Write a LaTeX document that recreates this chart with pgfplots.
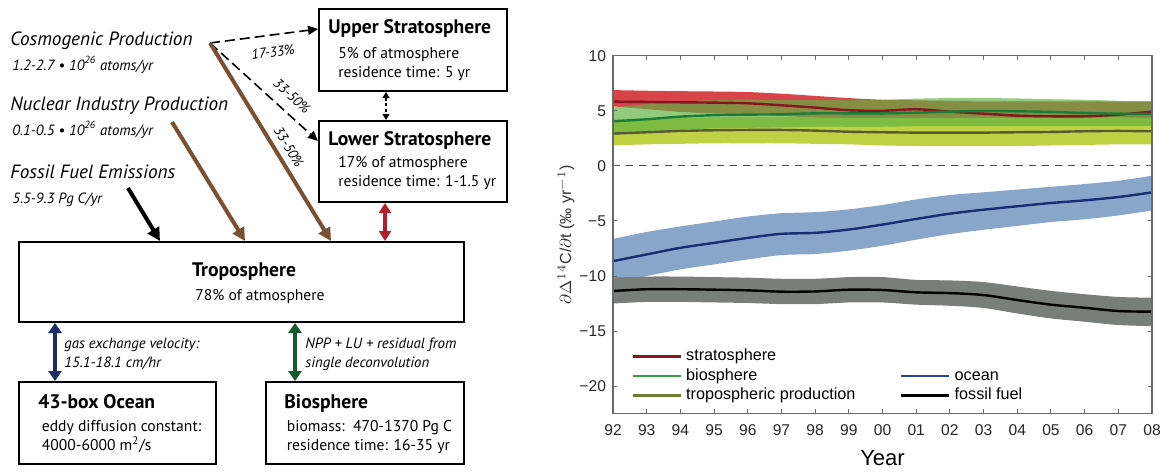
\documentclass[border=0pt]{standalone}
\usepackage{fontspec}
\setmainfont{Liberation Sans}
\newfontfamily\df{PT Sans}
\usepackage{pgfplots}
\pgfplotsset{compat=1.18}
\usepackage{pgfplotstable}
\usepgfplotslibrary{fillbetween}
\usetikzlibrary{arrows.meta}

\definecolor{strline}{RGB}{135,20,30}
\definecolor{strband}{RGB}{216,68,74}
\definecolor{bioline}{RGB}{25,125,55}
\definecolor{bioleg}{RGB}{50,160,75}
\definecolor{bioband}{RGB}{95,178,65}
\definecolor{tropline}{RGB}{88,90,55}
\definecolor{tropleg}{RGB}{110,125,50}
\definecolor{tropband}{RGB}{192,210,68}
\definecolor{ocline}{RGB}{22,45,115}
\definecolor{ocleg}{RGB}{40,70,150}
\definecolor{ocband}{RGB}{136,166,201}
\definecolor{ffband}{RGB}{122,126,123}
\definecolor{brownarr}{RGB}{122,80,50}
\definecolor{redarr}{RGB}{178,30,45}
\definecolor{bluearr}{RGB}{30,42,110}
\definecolor{greenarr}{RGB}{20,90,45}
\definecolor{axgray}{RGB}{105,105,105}

\pgfplotstableread{
x line lo hi
0 5.83 5.40 6.88
1 5.80 5.15 6.82
2 5.77 4.90 6.78
3 5.74 4.75 6.75
4 5.68 4.70 6.70
5 5.50 4.55 6.55
6 5.29 4.35 6.35
7 5.05 4.15 6.15
8 5.00 4.05 6.00
9 5.14 4.20 5.95
10 4.92 4.00 5.90
11 4.74 3.80 5.85
12 4.56 3.60 5.85
13 4.50 3.50 5.85
14 4.50 3.50 5.85
15 4.65 3.65 5.85
16 4.92 3.95 5.85
}\strat

\pgfplotstableread{
x line lo hi
0 4.05 2.85 5.30
1 4.23 3.00 5.60
2 4.47 3.25 5.85
3 4.60 3.40 5.95
4 4.65 3.45 6.00
5 4.68 3.50 6.00
6 4.77 3.55 6.00
7 4.77 3.55 6.00
8 4.77 3.55 6.00
9 4.83 3.60 6.10
10 4.92 3.60 6.15
11 4.98 3.60 6.15
12 4.95 3.60 6.12
13 4.90 3.60 6.05
14 4.80 3.60 6.00
15 4.74 3.60 5.90
16 4.71 3.60 5.80
}\bio

\pgfplotstableread{
x line lo hi
0 2.93 1.85 4.18
1 3.05 1.95 4.25
2 3.17 2.00 4.35
3 3.23 2.05 4.40
4 3.26 2.05 4.45
5 3.26 2.05 4.45
6 3.20 2.00 4.40
7 3.10 1.95 4.35
8 3.05 1.85 4.35
9 3.02 1.80 4.35
10 3.02 1.80 4.35
11 3.02 1.80 4.35
12 3.05 1.80 4.35
13 3.08 1.85 4.35
14 3.14 1.90 4.35
15 3.17 1.95 4.40
16 3.14 1.95 4.35
}\trop

\pgfplotstableread{
x line lo hi
0 -8.65 -10.65 -6.63
1 -8.04 -10.00 -6.00
2 -7.44 -9.40 -5.50
3 -6.99 -8.95 -5.05
4 -6.54 -8.50 -4.60
5 -6.17 -8.10 -4.30
6 -6.08 -8.00 -4.20
7 -5.78 -7.70 -3.95
8 -5.33 -7.25 -3.55
9 -4.82 -6.70 -3.05
10 -4.34 -6.20 -2.65
11 -3.98 -5.80 -2.40
12 -3.67 -5.45 -2.15
13 -3.37 -5.10 -1.90
14 -3.13 -4.85 -1.65
15 -2.83 -4.50 -1.35
16 -2.41 -4.05 -0.90
}\ocean

\pgfplotstableread{
x line lo hi
0 -11.36 -12.50 -10.15
1 -11.20 -12.35 -10.05
2 -11.20 -12.35 -10.05
3 -11.24 -12.40 -10.10
4 -11.30 -12.45 -10.15
5 -11.42 -12.55 -10.25
6 -11.40 -12.55 -10.25
7 -11.24 -12.40 -10.10
8 -11.27 -12.40 -10.10
9 -11.48 -12.60 -10.35
10 -11.55 -12.70 -10.40
11 -11.73 -12.90 -10.55
12 -12.18 -13.40 -10.95
13 -12.60 -13.85 -11.35
14 -12.88 -14.15 -11.65
15 -13.18 -14.45 -11.90
16 -13.24 -14.55 -11.97
}\fossil

\begin{document}
\begin{tikzpicture}
% ---------------- diagram ----------------
\begin{scope}[x=0.5pt,y=-0.5pt,every node/.style={inner sep=0pt}]
\draw[line width=1pt] (319,9) rectangle (507,91);
\draw[line width=1pt] (319,121) rectangle (507,202);
\draw[line width=1pt] (19,242) rectangle (464,322);
\draw[line width=1pt] (19,382) rectangle (216,464);
\draw[line width=1pt] (266,382) rectangle (464,464);

\def\tf{\df\bfseries\fontsize{9.8}{11}\selectfont}
\def\bft{\df\fontsize{7.8}{9}\selectfont}
\def\itf{\df\itshape\fontsize{9.6}{11}\selectfont}
\def\its{\df\itshape\fontsize{7.4}{8}\selectfont}
\def\itp{\df\itshape\fontsize{7}{8}\selectfont}

\node[anchor=base west] at (328,33) {\tf Upper Stratosphere};
\node[anchor=base west] at (338,58) {\bft 5\% of atmosphere};
\node[anchor=base west] at (338,77) {\bft residence time: 5 yr};

\node[anchor=base west] at (328,145.5) {\tf Lower Stratosphere};
\node[anchor=base west] at (338,167.5) {\bft 17\% of atmosphere};
\node[anchor=base west] at (338,186.5) {\bft residence time: 1-1.5 yr};

\node[anchor=base] at (244,276) {\tf Troposphere};
\node[anchor=base] at (260,300) {\bft 78\% of atmosphere};

\node[anchor=base west] at (38,408) {\tf 43-box Ocean};
\node[anchor=base west] at (41.5,431) {\bft eddy diffusion constant:};
\node[anchor=base west] at (41.5,450) {\bft 4000-6000 m\textsuperscript{2}/s};

\node[anchor=base west] at (284,408) {\tf Biosphere};
\node[anchor=base west] at (286.5,431) {\bft biomass:\ \ 470-1370 Pg C};
\node[anchor=base west] at (286.5,450) {\bft residence time: 16-35 yr};

\node[anchor=base west] at (64,348) {\its gas exchange velocity:};
\node[anchor=base west] at (64,367) {\its 15.1-18.1 cm/hr};
\node[anchor=base west] at (305,348) {\its NPP + LU + residual from};
\node[anchor=base west] at (305,367) {\its single deconvolution};

\node[anchor=base west] at (10,45.5) {\itf Cosmogenic Production};
\node[anchor=base west] at (12,70) {\its 1.2-2.7 \textbullet\ 10\textsuperscript{26} atoms/yr};
\node[anchor=base west] at (10,110.5) {\itf Nuclear Industry Production};
\node[anchor=base west] at (12,135) {\its 0.1-0.5 \textbullet\ 10\textsuperscript{26} atoms/yr};
\node[anchor=base west] at (10,178) {\itf Fossil Fuel Emissions};
\node[anchor=base west] at (12,203) {\its 5.5-9.3 Pg C/yr};

% arrows
\draw[line width=0.8pt, dash pattern=on 5pt off 2.5pt, -{Triangle[length=5pt,width=4.5pt]}] (210,43) -- (318,29);
\draw[line width=0.8pt, dash pattern=on 5pt off 2.5pt, -{Triangle[length=5pt,width=4.5pt]}] (210,43) -- (318,141);
\draw[brownarr, line width=2pt, -{Triangle[length=6.5pt,width=6.5pt]}] (210,43) -- (331,241);
\draw[brownarr, line width=2pt, -{Triangle[length=6.5pt,width=6.5pt]}] (172,122) -- (245,241);
\draw[black, line width=2pt, -{Triangle[length=6.5pt,width=6.5pt]}] (128,188) -- (160,241);
\draw[redarr, line width=1.6pt, {Triangle[length=5pt,width=6pt]}-{Triangle[length=5pt,width=6pt]}] (385,203) -- (385,241);
\draw[bluearr, line width=2pt, {Triangle[length=5pt,width=6.5pt]}-{Triangle[length=5pt,width=6.5pt]}] (55,323) -- (55,381);
\draw[greenarr, line width=2pt, {Triangle[length=5pt,width=6.5pt]}-{Triangle[length=5pt,width=6.5pt]}] (295,323) -- (295,381);
\draw[line width=0.6pt, dash pattern=on 1.5pt off 1.2pt, {Triangle[length=3pt,width=3.5pt]}-{Triangle[length=3pt,width=3.5pt]}] (386,92) -- (386,120);

\node[rotate=7.5] at (273,52) {\itp 17-33\%};
\node[rotate=-43] at (292,96) {\itp 33-50\%};
\node[rotate=-59] at (289,147) {\itp 33-50\%};
\end{scope}

% ---------------- chart ----------------
\begin{axis}[
  at={(306.5pt,-206.85pt)}, anchor=south west,
  scale only axis, width=269.5pt, height=179pt,
  xmin=0, xmax=16, ymin=-22.5, ymax=10,
  xtick={0,...,16},
  xticklabels={92,93,94,95,96,97,98,99,00,01,02,03,04,05,06,07,08},
  ytick={-20,-15,-10,-5,0,5,10},
  yticklabels={−20,−15,−10,−5,0,5,10},
  tick align=inside, major tick length=2.2pt,
  axis line style={axgray, line width=0.6pt},
  every tick/.style={axgray, line width=0.5pt},
  tick label style={font=\fontsize{7.8}{9}\selectfont, text=black!85},
  xticklabel style={yshift=-2pt},
  xlabel={Year},
  xlabel style={font=\fontsize{11}{13}\selectfont, at={(axis description cs:0.5,-0.124)}, anchor=center},
  ylabel={$\partial\Delta^{14}$C/$\partial$t (‰ yr$^{-1}$)},
  ylabel style={font=\fontsize{8}{9}\selectfont, text=black!80, at={(axis description cs:-0.087,0.5)}, anchor=center},
  axis on top,
  legend columns=2,
  legend cell align=left,
  legend image code/.code={\draw[#1] (0pt,0pt) -- (24pt,0pt);},
  legend style={at={(0.0334,0.186)}, anchor=north west, draw=none, fill=none,
    inner sep=0pt, row sep=1pt,
    font=\fontsize{8.1}{9}\selectfont,
    nodes={inner sep=0.7pt, text height=5.8pt, text depth=1.6pt},
    /tikz/every odd column/.append style={column sep=1.5pt},
    /tikz/every even column/.append style={column sep=21.5pt}},
]
% bands
\addplot[draw=none, smooth, name path=sU, forget plot] table[x=x,y=hi]{\strat};
\addplot[draw=none, smooth, name path=sL, forget plot] table[x=x,y=lo]{\strat};
\addplot[strband, draw=none, forget plot] fill between[of=sU and sL];
\addplot[draw=none, smooth, name path=tU, forget plot] table[x=x,y=hi]{\trop};
\addplot[draw=none, smooth, name path=tL, forget plot] table[x=x,y=lo]{\trop};
\addplot[tropband, draw=none, forget plot] fill between[of=tU and tL];
\addplot[draw=none, smooth, name path=bU, forget plot] table[x=x,y=hi]{\bio};
\addplot[draw=none, smooth, name path=bL, forget plot] table[x=x,y=lo]{\bio};
\addplot[bioband, fill opacity=0.68, draw=none, forget plot] fill between[of=bU and bL];
\addplot[draw=none, smooth, name path=oU, forget plot] table[x=x,y=hi]{\ocean};
\addplot[draw=none, smooth, name path=oL, forget plot] table[x=x,y=lo]{\ocean};
\addplot[ocband, draw=none, forget plot] fill between[of=oU and oL];
\addplot[draw=none, smooth, name path=fU, forget plot] table[x=x,y=hi]{\fossil};
\addplot[draw=none, smooth, name path=fL, forget plot] table[x=x,y=lo]{\fossil};
\addplot[ffband, draw=none, forget plot] fill between[of=fU and fL];
% zero line
\addplot[black!70, line width=0.5pt, dash pattern=on 3.5pt off 3pt, forget plot] coordinates {(0,0) (16,0)};
% lines
\addplot[strline, line width=1.2pt, smooth, forget plot] table[x=x,y=line]{\strat};
\addplot[tropline, line width=1.2pt, smooth, forget plot] table[x=x,y=line]{\trop};
\addplot[bioline, line width=1.2pt, smooth, forget plot] table[x=x,y=line]{\bio};
\addplot[ocline, line width=1.2pt, smooth, forget plot] table[x=x,y=line]{\ocean};
\addplot[black, line width=1.2pt, smooth, forget plot] table[x=x,y=line]{\fossil};
% legend
\addlegendimage{strline, line width=1.2pt}
\addlegendentry{stratosphere}
\addlegendimage{empty legend}
\addlegendentry{}
\addlegendimage{bioleg, line width=1.2pt}
\addlegendentry{biosphere}
\addlegendimage{ocleg, line width=1.2pt}
\addlegendentry{ocean}
\addlegendimage{tropleg, line width=1.2pt}
\addlegendentry{tropospheric production}
\addlegendimage{black, line width=1.2pt}
\addlegendentry{fossil fuel}
\end{axis}
\pgfresetboundingbox
\path[use as bounding box] (0,0) rectangle (583pt,-236pt);
\end{tikzpicture}
\end{document}
